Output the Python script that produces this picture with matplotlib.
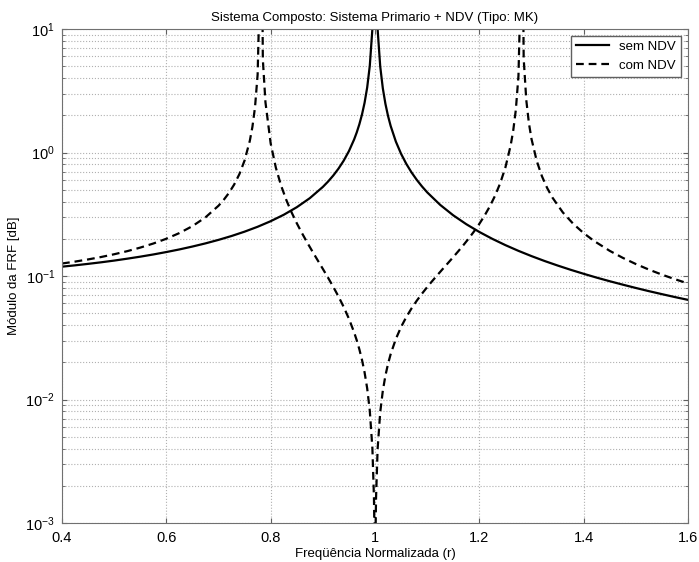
import numpy as np
import matplotlib
matplotlib.use('Agg')
import matplotlib.pyplot as plt
from matplotlib.ticker import LogLocator, NullFormatter

plt.rcParams['font.family'] = ['Liberation Sans', 'DejaVu Sans']
plt.rcParams['mathtext.fontset'] = 'custom'
plt.rcParams['mathtext.rm'] = 'Liberation Sans'

# sem NDV (sistema primario)
r_sem = [0.40, 0.425, 0.45, 0.475, 0.50, 0.525, 0.55, 0.575, 0.60, 0.625, 0.65, 0.675,
         0.70, 0.725, 0.75, 0.775, 0.80, 0.825, 0.85, 0.875, 0.90, 0.91, 0.92, 0.93, 0.94,
         0.95, 0.96, 0.965, 0.97, 0.975, 0.98, 0.985, 0.99, 0.995, 0.9975, 1.00, 1.0025,
         1.005, 1.01, 1.015, 1.02, 1.025, 1.03, 1.04, 1.05, 1.06, 1.07, 1.08, 1.09, 1.10,
         1.125, 1.15, 1.175, 1.20, 1.225, 1.25, 1.275, 1.30, 1.325, 1.35, 1.375, 1.40,
         1.425, 1.45, 1.475, 1.50, 1.525, 1.55, 1.575, 1.60]
frf_sem = [0.1190, 0.1220, 0.1254, 0.1291, 0.1333, 0.1381, 0.1434, 0.1494, 0.1563, 0.1641,
           0.1732, 0.1837, 0.1961, 0.2108, 0.2286, 0.2504, 0.2778, 0.3131, 0.3604, 0.4267,
           0.5263, 0.5817, 0.651, 0.7402, 0.859, 1.026, 1.276, 1.454, 1.692, 2.025, 2.525,
           3.358, 5.025, 10.03, 20.02, 1000.0, 19.98, 9.975, 4.975, 3.308, 2.475, 1.975,
           1.642, 1.225, 0.9756, 0.809, 0.6901, 0.601, 0.5316, 0.476, 0.3765, 0.310, 0.2627,
           0.2273, 0.1998, 0.1778, 0.1598, 0.1449, 0.1323, 0.1216, 0.1123, 0.1042, 0.0970,
           0.0907, 0.0851, 0.0800, 0.0754, 0.0713, 0.0675, 0.0641]

# com NDV (sistema composto)
r_com = [0.40, 0.425, 0.45, 0.475, 0.50, 0.525, 0.55, 0.575, 0.60, 0.625, 0.65, 0.675,
         0.70, 0.71, 0.72, 0.73, 0.74, 0.75, 0.76, 0.765, 0.77, 0.775, 0.78, 0.7808,
         0.785, 0.79, 0.80, 0.81, 0.82, 0.83, 0.84, 0.85, 0.86, 0.87, 0.88, 0.89, 0.90,
         0.91, 0.92, 0.93, 0.94, 0.95, 0.96, 0.965, 0.97, 0.975, 0.98, 0.985, 0.99, 0.995,
         0.998, 0.999, 1.00, 1.001, 1.002, 1.005, 1.01, 1.015, 1.02, 1.025, 1.03, 1.04,
         1.05, 1.06, 1.07, 1.08, 1.09, 1.10, 1.11, 1.12, 1.13, 1.14, 1.15, 1.16, 1.17,
         1.18, 1.19, 1.20, 1.21, 1.22, 1.23, 1.24, 1.25, 1.26, 1.265, 1.27, 1.275, 1.28,
         1.2808, 1.285, 1.29, 1.295, 1.30, 1.31, 1.32, 1.33, 1.34, 1.36, 1.38, 1.40, 1.42,
         1.45, 1.475, 1.50, 1.525, 1.55, 1.575, 1.60]
frf_com = [0.1262, 0.1308, 0.1362, 0.1425, 0.1500, 0.1589, 0.1698, 0.1832, 0.2003, 0.2227,
           0.2534, 0.2984, 0.3706, 0.4136, 0.4706, 0.5498, 0.6676, 0.8616, 1.2416, 1.612,
           2.326, 4.276, 31.3, 1000.0, 5.666, 2.553, 1.184, 0.7516, 0.539, 0.4124, 0.3281,
           0.2678, 0.2224, 0.1868, 0.1581, 0.1343, 0.1142, 0.09686, 0.0817, 0.06824,
           0.05614, 0.04511, 0.03496, 0.03015, 0.02550, 0.02099, 0.01660, 0.01232, 0.00813,
           0.004032, 0.001605, 0.000801, 1e-6, 0.000799, 0.001595, 0.003972, 0.007894,
           0.01178, 0.01563, 0.01946, 0.02329, 0.03094, 0.03866, 0.04653, 0.05463, 0.06305,
           0.07189, 0.08127, 0.09132, 0.1022, 0.1142, 0.1274, 0.1423, 0.1593, 0.1790,
           0.2021, 0.2300, 0.2644, 0.3081, 0.3657, 0.4454, 0.5636, 0.7579, 1.138, 1.509,
           2.222, 4.171, 31.2, 1000.0, 5.769, 2.656, 1.731, 1.287, 0.8548, 0.6424, 0.5162,
           0.4322, 0.3275, 0.2646, 0.2224, 0.1921, 0.1598, 0.1403, 0.1250, 0.1127, 0.1026,
           0.09418, 0.0870]

fig = plt.figure(figsize=(6.99, 5.62), dpi=100)
ax = fig.add_axes([62/699, 1 - 523/562, (688 - 62)/699, (523 - 29)/562])

ax.semilogy(r_sem, frf_sem, color='black', linestyle='-', linewidth=1.6, label='sem NDV')
ax.semilogy(r_com, frf_com, color='black', linestyle=(0, (3.5, 2.2)), linewidth=1.6,
            label='com NDV')

ax.set_xlim(0.4, 1.6)
ax.set_ylim(1e-3, 1e1)
ax.set_xticks([0.4, 0.6, 0.8, 1.0, 1.2, 1.4, 1.6])
ax.set_xticklabels(['0.4', '0.6', '0.8', '1', '1.2', '1.4', '1.6'])
ax.yaxis.set_major_locator(LogLocator(base=10, numticks=10))
ax.yaxis.set_minor_locator(LogLocator(base=10, subs=np.arange(2, 10), numticks=10))
ax.yaxis.set_minor_formatter(NullFormatter())

ax.grid(True, which='major', color='#b0b0b0', linestyle=':', linewidth=0.8)
ax.grid(True, which='minor', axis='y', color='#b0b0b0', linestyle=':', linewidth=0.8)
ax.tick_params(which='both', direction='in', top=True, right=True, labelsize=10.5,
               color='#606060')
ax.tick_params(axis='x', pad=6)
ax.tick_params(axis='y', pad=5)
for s in ax.spines.values():
    s.set_color('#707070')

ax.set_title('Sistema Composto: Sistema Primario + NDV (Tipo: MK)', fontsize=9.5)
ax.set_xlabel('Freqüência Normalizada (r)', fontsize=9.5, labelpad=2)
ax.set_ylabel('Módulo da FRF [dB]', fontsize=9.5)

leg = ax.legend(loc='upper right', fontsize=9.5, fancybox=False, framealpha=1,
                edgecolor='#606060', handlelength=2.5)

fig.savefig('out.png', dpi=100)
